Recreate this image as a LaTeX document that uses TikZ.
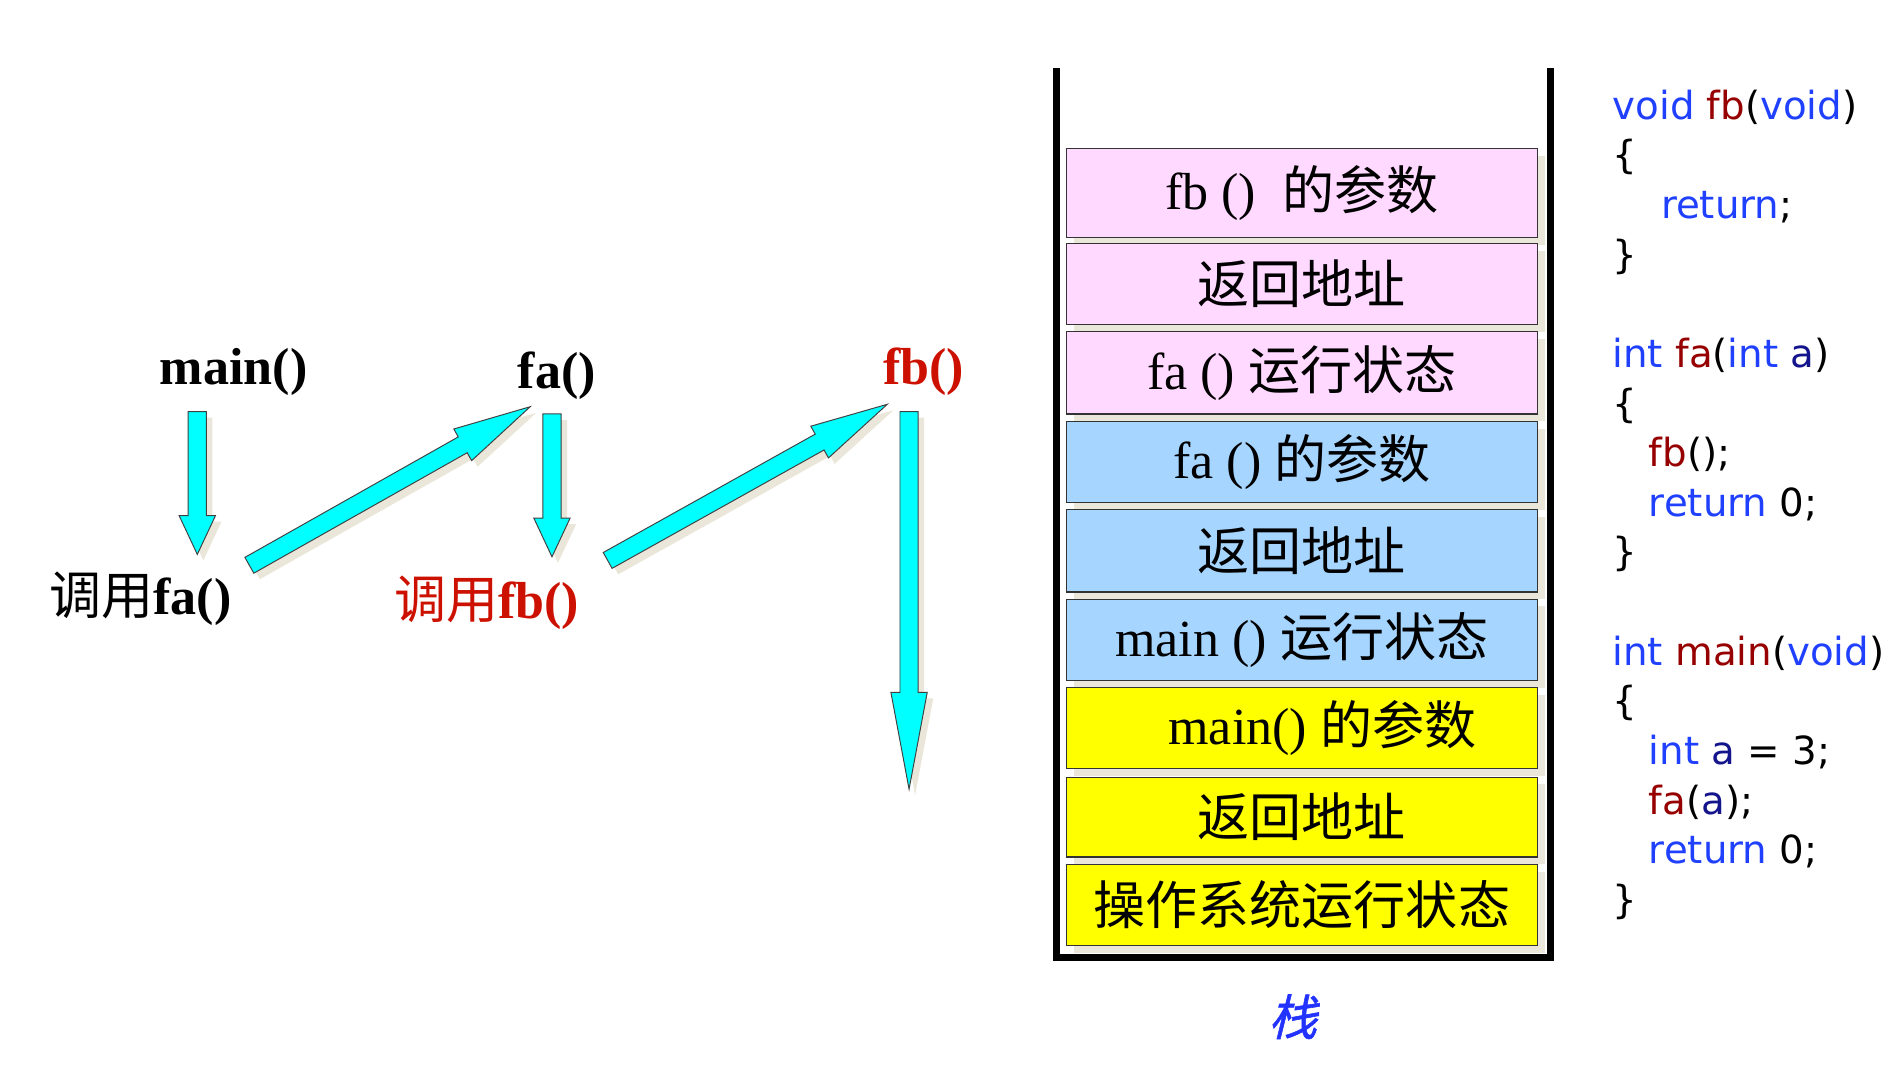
\documentclass[tikz,border=0pt]{standalone}
\usepackage{fontspec}
\setmainfont{Liberation Serif}
\newfontfamily\zhfont{Noto Sans CJK SC}
\newfontfamily\zhslant[FakeSlant=0.25,FakeBold=1.2]{Noto Sans CJK SC}
\newfontfamily\codefont{DejaVu Sans}
\usepackage{tikz}
\usetikzlibrary{calc, shadows, positioning}

\definecolor{framepink}{RGB}{255,217,255}
\definecolor{frameblue}{RGB}{166,214,255}
\definecolor{frameyellow}{RGB}{255,255,0}
\definecolor{callred}{RGB}{204,17,0}
\definecolor{shade}{RGB}{234,231,218}
\definecolor{arrowcyan}{RGB}{0,255,255}
\definecolor{kwblue}{RGB}{32,64,255}
\definecolor{fnred}{RGB}{150,0,0}
\definecolor{varnavy}{RGB}{20,20,140}
\definecolor{stackblue}{RGB}{34,51,255}

\newcommand\zh[1]{{\zhfont #1}}
\newcommand\kw[1]{\textcolor{kwblue}{#1}}
\newcommand\fn[1]{\textcolor{fnred}{#1}}
\newcommand\vr[1]{\textcolor{varnavy}{#1}}

% block arrow: head length #1, from #2 to #3
\newcommand\blockarrow[3]{%
  \coordinate (ha) at ($(#3)!#1!(#2)$);
  \path[flowarrow] ($(#2)!7.5pt!90:(#3)$) -- ($(ha)!7.5pt!90:(#3)$)
    -- ($(ha)!15pt!90:(#3)$) -- (#3) -- ($(ha)!15pt!-90:(#3)$)
    -- ($(ha)!7.5pt!-90:(#3)$) -- ($(#2)!7.5pt!-90:(#3)$) -- cycle;
}

\begin{document}
\begin{tikzpicture}[x=1pt, y=-1pt,
  callname/.style={inner sep=0pt, font=\fontsize{43}{50}\selectfont},
  frame/.style={draw=black!80, line width=1pt, minimum width=389pt, inner sep=0pt,
    font=\fontsize{43}{50}\selectfont,
    general shadow={shadow xshift=6pt, shadow yshift=-6pt, fill=shade}},
  flowarrow/.style={fill=arrowcyan, draw=black!75, line width=0.8pt, line join=miter,
    general shadow={shadow xshift=5pt, shadow yshift=-5pt, fill=shade}}]

\useasboundingbox (0,0) rectangle (1568,882);

% function names and calls
\node[callname] (main) at (193,307) {\textbf{main()}};
\node[callname] (fa) at (460,310) {\textbf{fa()}};
\node[callname, text=callred] (fb) at (763,307) {\textbf{fb()}};
\node[callname] (callfa) at (116,495) {\zh{调用}\textbf{fa()}};
\node[callname, text=callred] (callfb) at (402,498) {\zh{调用}\textbf{fb()}};

% arrow ends
\coordinate (a1s) at (163,340);
\coordinate (a1e) at (163,458);
\coordinate (a2s) at (206,467);
\coordinate (a2e) at (438,336);
\coordinate (a3s) at (456,342);
\coordinate (a3e) at (456,460);
\coordinate (a4s) at (502,463);
\coordinate (a4e) at (733,334);
\coordinate (a5s) at (751,340);
\coordinate (a5e) at (751,652);

\blockarrow{32pt}{a1s}{a1e}
\blockarrow{64pt}{a2s}{a2e}
\blockarrow{32pt}{a3s}{a3e}
\blockarrow{64pt}{a4s}{a4e}
\blockarrow{80pt}{a5s}{a5e}

% stack frames
\node[frame, fill=framepink, minimum height=73pt] (f1) at (1075.5,159.5) {fb ()\ \ \zh{的参数}};
\node[frame, fill=framepink, minimum height=67pt] (f2) at (1075.5,234.5) {\zh{返回地址}};
\node[frame, fill=framepink, minimum height=68pt] (f3) at (1075.5,308) {fa () \zh{运行状态}};
\node[frame, fill=frameblue, minimum height=67pt] (f4) at (1075.5,381.5) {fa () \zh{的参数}};
\node[frame, fill=frameblue, minimum height=68pt] (f5) at (1075.5,455) {\zh{返回地址}};
\node[frame, fill=frameblue, minimum height=67pt] (f6) at (1075.5,528.5) {main () \zh{运行状态}};
\node[frame, fill=frameyellow, minimum height=67pt] (f7) at (1075.5,601.5) {\hspace*{34pt}main() \zh{的参数}};
\node[frame, fill=frameyellow, minimum height=66pt] (f8) at (1075.5,675) {\zh{返回地址}};
\node[frame, fill=frameyellow, minimum height=67pt] (f9) at (1075.5,747.5) {\zh{操作系统运行状态}};

% stack walls
\draw[line width=6pt] (873,56) -- (873,791) -- (1281,791) -- (1281,56);
\node[text=stackblue, font=\fontsize{40}{44}\selectfont] (stk) at (1068,840) {\zhslant 栈};

% source code
\node[anchor=north west, align=left, inner sep=0pt,
  font=\codefont\fontsize{32}{41}\selectfont] (code) at (1332,74) {%
\kw{void} \fn{fb}(\kw{void})\\
\{\\
\hspace*{40pt}\kw{return};\\
\}\\[41pt]
\kw{int} \fn{fa}(\kw{int} \vr{a})\\
\{\\
\hspace*{30pt}\fn{fb}();\\
\hspace*{30pt}\kw{return} 0;\\
\}\\[41pt]
\kw{int} \fn{main}(\kw{void})\\
\{\\
\hspace*{30pt}\kw{int} \vr{a} = 3;\\
\hspace*{30pt}\fn{fa}(\vr{a});\\
\hspace*{30pt}\kw{return} 0;\\
\}};

\end{tikzpicture}
\end{document}
